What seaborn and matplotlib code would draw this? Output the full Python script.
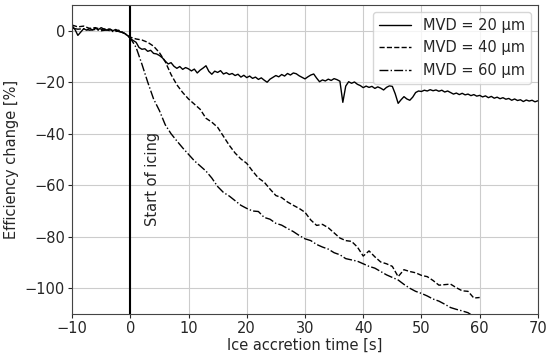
import numpy as np
import pandas as pd
import seaborn as sns
import matplotlib
matplotlib.use("Agg")
import matplotlib.pyplot as plt

labels = ["MVD = 20 µm", "MVD = 40 µm", "MVD = 60 µm"]

# MVD 20: samples every 0.5 s from -10 s
eff20 = [
    2.0, 0.5, -1.8, -0.5, 0.8, 0.2, 0.9, 0.3, 1.0, 0.4,
    1.2, 0.6, 0.2, 0.7, 0.0, 0.5, -0.3, -0.5, -1.0, -1.8,
    -3.0, -3.8, -4.5, -6.5, -7.2, -7.0, -8.0, -7.6, -8.8, -9.0,
    -9.6, -10.5, -11.8, -12.9, -12.4, -13.8, -14.6, -13.9, -15.0, -14.3,
    -14.8, -15.6, -14.9, -16.4, -15.3, -14.5, -13.6, -15.8, -16.9, -15.7,
    -16.2, -15.5, -16.8, -16.3, -17.0, -16.6, -17.4, -16.9, -18.0, -17.3,
    -18.2, -17.6, -18.5, -18.0, -18.9, -18.3, -19.2, -20.0, -18.8, -18.1,
    -17.4, -17.9, -17.0, -17.6, -16.6, -17.2, -16.4, -16.7, -17.5, -18.1,
    -18.7, -17.9, -17.2, -16.8, -18.4, -19.8, -19.1, -19.5, -18.8, -19.3,
    -18.6, -19.0, -19.6, -27.8, -21.5, -19.8, -20.4, -19.9, -20.8, -21.3,
    -22.1, -21.5, -22.0, -21.6, -22.4, -21.8, -22.3, -23.0, -22.0, -21.4,
    -21.6, -24.5, -28.2, -26.8, -25.6, -26.5, -27.0, -25.8, -24.0, -23.4,
    -23.6, -23.1, -23.4, -22.9, -23.3, -23.0, -23.5, -23.1, -23.8, -23.4,
    -24.0, -24.6, -24.2, -24.8, -24.3, -24.9, -24.6, -25.2, -24.8, -25.4,
    -25.1, -25.7, -25.3, -26.0, -25.5, -26.2, -25.8, -26.4, -26.0, -26.6,
    -26.3, -27.0, -26.5, -27.1, -26.8, -27.5, -26.9, -27.3, -27.0, -27.6,
    -27.2,
]

# MVD 40: samples every 1 s from -10 s
eff40 = [
    2.2, 1.5, 1.8, 0.9, 1.2, 0.5, 0.8, 0.0, 0.2, -1.0,
    -2.5, -3.2, -3.6, -4.5, -6.0, -8.5, -12.0, -17.0, -21.0, -24.0,
    -26.5, -28.5, -30.5, -34.0, -35.5, -37.5, -41.0, -44.5, -47.5, -49.8,
    -51.5, -54.5, -57.2, -58.8, -61.5, -64.0, -64.8, -66.5, -67.8, -69.0,
    -70.5, -73.5, -75.6, -75.2, -76.5, -78.5, -80.5, -81.5, -81.8, -84.0,
    -87.5, -85.5, -87.8, -89.8, -90.5, -91.5, -95.5, -92.8, -93.5, -94.0,
    -95.0, -95.5, -97.0, -98.8, -98.6, -98.4, -99.8, -101.0, -101.2, -103.8,
    -103.6,
]

# MVD 60: samples every 1 s from -10 s
eff60 = [
    1.0, 0.6, 0.8, 0.2, 0.5, 0.0, 0.3, -0.3, -0.2, -1.0,
    -2.8, -6.5, -13.0, -20.0, -26.5, -31.0, -36.5, -40.0, -42.8, -45.5,
    -48.0, -50.5, -52.5, -54.5, -57.2, -60.5, -62.8, -64.2, -66.0, -67.8,
    -69.0, -70.0, -70.2, -72.5, -73.2, -74.8, -75.5, -76.8, -78.0, -79.5,
    -80.8, -81.5, -83.0, -84.0, -84.8, -86.2, -87.0, -88.5, -89.0, -89.5,
    -90.5, -91.5, -92.2, -93.5, -94.8, -95.8, -96.8, -98.5, -100.0, -101.2,
    -102.0, -103.0, -104.2, -105.0, -106.2, -107.5, -108.2, -108.8, -109.5, -111.0,
]

t20 = -10 + 0.5 * np.arange(len(eff20))
t40 = -10 + 1.0 * np.arange(len(eff40))
t60 = -10 + 1.0 * np.arange(len(eff60))

df = pd.concat([
    pd.DataFrame({"t": t20, "eff": eff20, "case": labels[0]}),
    pd.DataFrame({"t": t40, "eff": eff40, "case": labels[1]}),
    pd.DataFrame({"t": t60, "eff": eff60, "case": labels[2]}),
])

sns.set_style("ticks", {"axes.grid": True, "grid.color": "#cccccc"})
plt.rcParams["font.family"] = ["DejaVu Sans"]
plt.rcParams["font.size"] = 10.5

fig, ax = plt.subplots(figsize=(5.5, 3.56), dpi=100)
styles = ["-", "--", "-."]
for lab, ls in zip(labels, styles):
    sns.lineplot(data=df[df["case"] == lab], x="t", y="eff", color="black",
                 linestyle=ls, linewidth=1.0, label=lab, ax=ax)

ax.axvline(0, color="black", linewidth=1.5)
ax.text(2.6, -76, "Start of icing", rotation=90, ha="left", va="bottom", fontsize=10.5)

ax.set_xlim(-10, 70)
ax.set_ylim(-110, 10)
ax.set_xticks([-10, 0, 10, 20, 30, 40, 50, 60, 70])
ax.set_yticks([0, -20, -40, -60, -80, -100])
ax.set_xlabel("Ice accretion time [s]", labelpad=1)
ax.set_ylabel("Efficiency change [%]")
for s in ax.spines.values():
    s.set_color("#444444")
ax.tick_params(labelsize=10.5, length=3, pad=2)
ax.legend(loc="upper right", fontsize=10.5, handlelength=2.2)

fig.subplots_adjust(left=0.131, right=0.978, top=0.986, bottom=0.118)
fig.savefig("out.png", dpi=100)
